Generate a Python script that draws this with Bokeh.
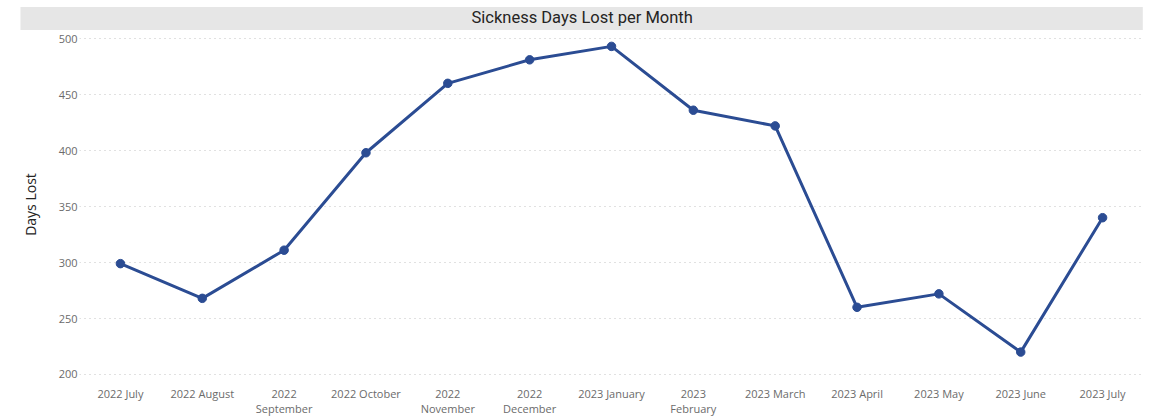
from bokeh.plotting import figure
from bokeh.models import FactorRange, Range1d, ColumnDataSource
from bokeh.embed import file_html
from bokeh.resources import INLINE

months = ["2022 July", "2022 August", "2022 September", "2022 October", "2022 November",
          "2022 December", "2023 January", "2023 February", "2023 March", "2023 April",
          "2023 May", "2023 June", "2023 July"]
days_lost = [299, 268, 311, 398, 460, 481, 493, 436, 422, 260, 272, 220, 340]
tick_labels = ["2022 July", "2022 August", "2022\nSeptember", "2022 October", "2022\nNovember",
               "2022\nDecember", "2023 January", "2023\nFebruary", "2023 March", "2023 April",
               "2023 May", "2023 June", "2023 July"]
y_ticks = [200, 250, 300, 350, 400, 450, 500]
title_text = "Sickness Days Lost per Month"

LINE = "#2B4C93"
TXT = "#252423"
TICK = "#6b6b6b"

src = ColumnDataSource(dict(month=tick_labels, days=days_lost))

p = figure(width=1146, height=418, x_range=FactorRange(*tick_labels), y_range=Range1d(199.1, 504.5),
           output_backend="svg", toolbar_location=None, tools="",
           min_border_left=79, min_border_right=3, min_border_top=33, min_border_bottom=43)
p.outline_line_color = None
p.background_fill_color = "white"
p.border_fill_color = "white"

# title with a wide grey band behind it
p.title.text = title_text
p.title.align = "left"
p.title.offset = -59
p.title.standoff = 7
p.title.text_font = "Roboto"
p.title.text_font_size = "16.5px"
p.title.text_font_style = "normal"
p.title.text_color = TXT
p.title.background_fill_color = "#e6e6e6"
p.title.border_line_color = None
try:
    p.title.padding = dict(left=451, right=450, top=1, bottom=3)
except Exception:
    p.title.padding = (450, 2)

p.line("month", "days", source=src, line_color=LINE, line_width=3)
p.scatter("month", "days", source=src, size=8.5, fill_color=LINE, line_color=LINE)

p.xgrid.grid_line_color = None
p.ygrid.grid_line_color = "#c2c2c2"
p.ygrid.grid_line_dash = "1 4"
p.ygrid.grid_line_width = 1
p.yaxis.ticker = y_ticks

for ax in (p.xaxis[0], p.yaxis[0]):
    ax.axis_line_color = None
    ax.major_tick_line_color = None
    ax.minor_tick_line_color = None
    ax.major_label_text_font = "Open Sans"
    ax.major_label_text_font_size = "11px"
    ax.major_label_text_color = TICK

p.xaxis.major_label_standoff = 4
p.xaxis.major_label_text_line_height = 1.0
p.yaxis.major_label_standoff = -4
p.yaxis.axis_label = "Days Lost"
p.yaxis.axis_label_text_font = "Open Sans"
p.yaxis.axis_label_text_font_size = "14px"
p.yaxis.axis_label_text_font_style = "normal"
p.yaxis.axis_label_text_color = TXT
p.yaxis.axis_label_standoff = 16

open("out.html", "w").write(file_html(p, INLINE))
